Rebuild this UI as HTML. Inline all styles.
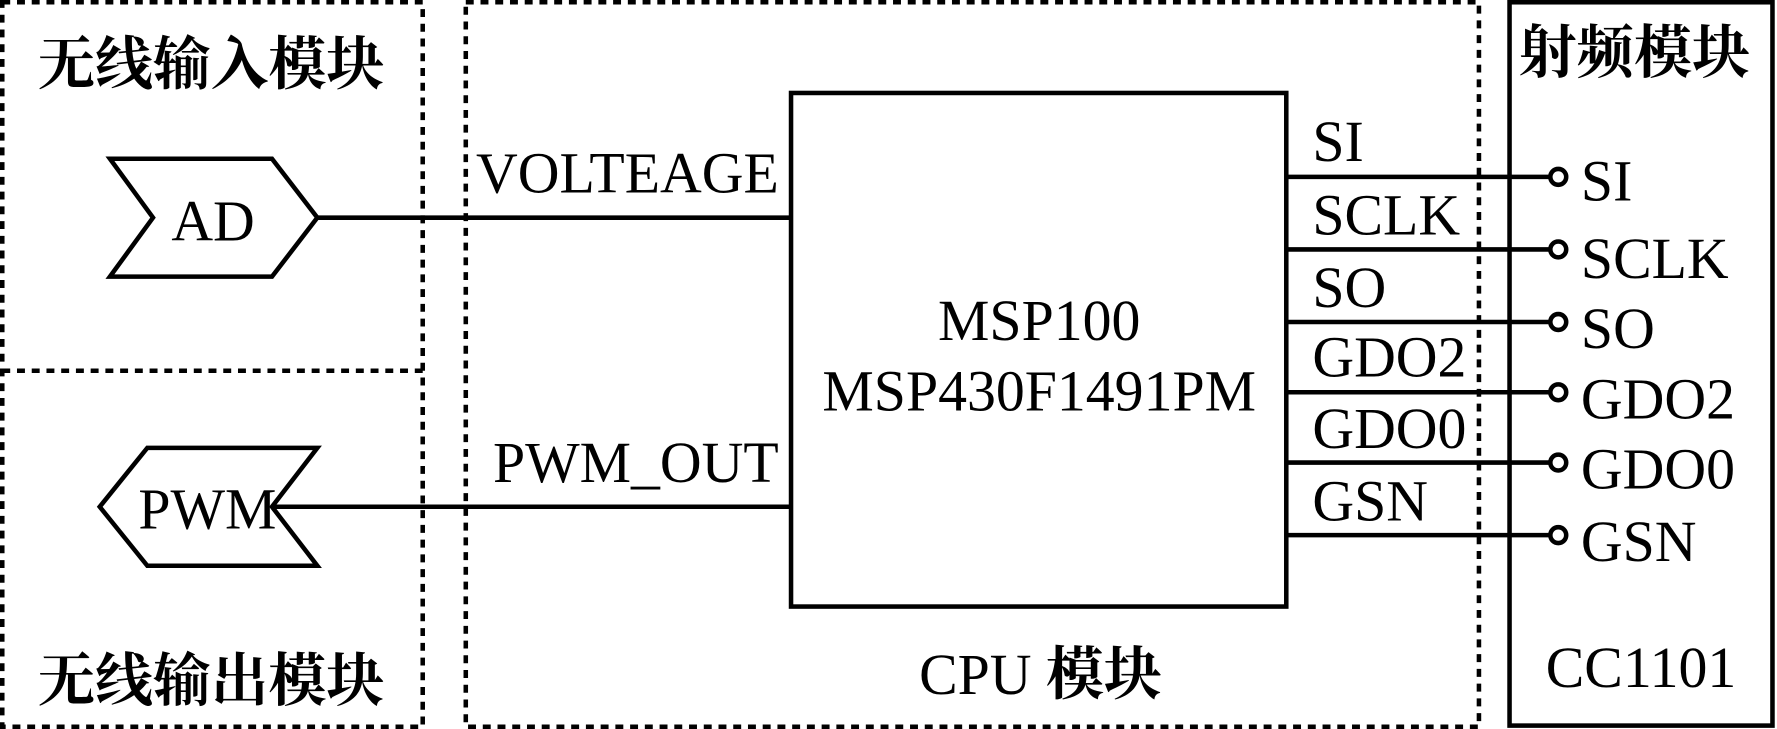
<!DOCTYPE html>
<html><head><meta charset="utf-8"><style>
html,body{margin:0;padding:0;background:#fff;}
svg{display:block;}
text{font-family:"Liberation Serif","Noto Serif CJK SC","Noto Sans CJK SC",serif;fill:#000;font-size:51px;}
.cjk{font-family:"Liberation Serif","Noto Serif CJK SC",serif;font-weight:bold;}
</style></head><body>
<svg width="1777" height="729" viewBox="0 0 1568 643" preserveAspectRatio="none" xmlns="http://www.w3.org/2000/svg">
<g fill="none" stroke="#000" stroke-width="4" stroke-dasharray="7,6">
<path d="M2,2 H373 V641 H2 Z"/>
<path d="M2,327 H373"/>
<path d="M411,2 H1305 V641 H411 Z"/>
</g>
<rect x="1332" y="2" width="232" height="638" fill="none" stroke="#000" stroke-width="4"/>
<rect x="698" y="82" width="437" height="453" fill="none" stroke="#000" stroke-width="4"/>
<g fill="none" stroke="#000" stroke-width="4">
<polygon points="97,140 240,140 280,192 240,244 97,244 135,192"/>
<polygon points="130,395 280,395 240,447 280,499 130,499 88,447"/>
<path d="M280,192 H698"/>
<path d="M240,447 H698"/>
<path d="M1135,156 H1368 M1135,220 H1368 M1135,284 H1368 M1135,346 H1368 M1135,408 H1368 M1135,472 H1368"/>
</g>
<g fill="#fff" stroke="#000" stroke-width="4">
<circle cx="1375" cy="156" r="7"/><circle cx="1375" cy="220" r="7"/><circle cx="1375" cy="284" r="7"/>
<circle cx="1375" cy="346" r="7"/><circle cx="1375" cy="408" r="7"/><circle cx="1375" cy="472" r="7"/>
</g>
<text x="33" y="74" class="cjk">无线输入模块</text>
<text x="33" y="618" class="cjk">无线输出模块</text>
<text x="1340" y="64" class="cjk">射频模块</text>
<text x="918" y="612" text-anchor="middle"><tspan>CPU </tspan><tspan class="cjk">模块</tspan></text>
<text x="1448" y="606" text-anchor="middle">CC1101</text>
<text x="188" y="212" text-anchor="middle">AD</text>
<text x="183" y="466" text-anchor="middle">PWM</text>
<text x="420" y="170">VOLTEAGE</text>
<text x="435" y="425">PWM_OUT</text>
<text x="917" y="300" text-anchor="middle">MSP100</text>
<text x="917" y="362" text-anchor="middle">MSP430F1491PM</text>
<text x="1158" y="142">SI</text>
<text x="1158" y="207">SCLK</text>
<text x="1158" y="271">SO</text>
<text x="1158" y="332">GDO2</text>
<text x="1158" y="395">GDO0</text>
<text x="1158" y="459">GSN</text>
<text x="1395" y="177">SI</text>
<text x="1395" y="245">SCLK</text>
<text x="1395" y="307">SO</text>
<text x="1395" y="369">GDO2</text>
<text x="1395" y="431">GDO0</text>
<text x="1395" y="495">GSN</text>
</svg>
</body></html>
